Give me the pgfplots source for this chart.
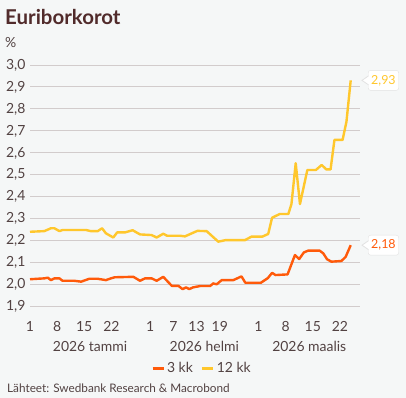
\documentclass[border=0pt]{standalone}
\usepackage{fontspec}
\setmainfont{Lato}
\usepackage{pgfplots}
\pgfplotsset{compat=1.18}
\definecolor{bg}{HTML}{F5F7F7}
\definecolor{titlec}{HTML}{512B2B}
\definecolor{txt}{HTML}{524242}
\definecolor{gridc}{HTML}{D2CCCC}
\definecolor{yel}{HTML}{FFC72C}
\definecolor{ora}{HTML}{FF5A0A}
\definecolor{boxc}{HTML}{E2E2E2}
\begin{document}
\begin{tikzpicture}
\useasboundingbox (0bp,0bp) rectangle (406bp,-398bp);
\fill[bg] (0bp,0bp) rectangle (406bp,-398bp);
\node[anchor=base west, inner sep=0, text=titlec, font=\fontsize{20.5}{24}\selectfont\bfseries] at (5bp,-24bp) {Euriborkorot};
\node[anchor=base west, inner sep=0, text=txt, font=\fontsize{14}{16}\selectfont] at (5bp,-47bp) {\%};
\node[anchor=west, inner sep=0, text=txt, font=\fontsize{11.8}{13}\selectfont] at (7bp,-388bp) {Lähteet: Swedbank Research \& Macrobond};
\begin{axis}[at={(30bp,-306.7bp)}, anchor=south west, scale only axis,
  width=330bp, height=241.7bp, xmin=0, xmax=85.2, ymin=1.9, ymax=3.0,
  clip=false, axis line style={draw=none}, major tick length=0,
  ymajorgrids, grid style={gridc, line width=1bp},
  ytick={1.9,2.0,2.1,2.2,2.3,2.4,2.5,2.6,2.7,2.8,2.9,3.0},
  xtick={0,7,14,21,31,37,43,49,59,66,73,80},
  xticklabels={1,8,15,22,1,7,13,19,1,8,15,22},
  ticklabel style={font=\fontsize{14}{16}\selectfont, text=txt},
  xticklabel style={anchor=center, yshift=-20bp},
  yticklabel style={anchor=east, xshift=-1bp},
  /pgf/number format/.cd, use comma, fixed, fixed zerofill, precision=1, assume math mode=true,
  /pgfplots/.cd,
  legend style={at={(0.521,-0.254)}, anchor=center, draw=none, fill=none,
    font=\fontsize{14}{16}\selectfont, text=txt, legend columns=2,
    /tikz/every even column/.append style={column sep=6bp}},
  legend image code/.code={\draw[#1, line width=3bp, line cap=butt] (0bp,0bp) -- (11bp,0bp);},
]
\addplot[ora, line width=2.4bp, line join=round] coordinates {
(0,2.025)(3.7,2.029)(4.6,2.032)(5.4,2.021)(6.3,2.029)(7.6,2.029)(8.4,2.018)(11.4,2.018)(13.2,2.014)(15.3,2.027)(17.5,2.027)(19.6,2.021)(20.9,2.029)(21.9,2.034)(26.7,2.036)(28.4,2.018)(29.7,2.029)(31.4,2.029)(32.7,2.018)(34.4,2.036)(36.6,1.995)(38.3,1.995)(39.4,1.98)(40.3,1.988)(41.1,1.98)(42.1,1.988)(43.9,1.994)(46.5,1.994)(47.3,2.006)(48.2,2.002)(49.5,2.021)(52.5,2.021)(54.6,2.038)(55.6,2.009)(59.6,2.009)(61.4,2.030)(62.5,2.054)(63.4,2.044)(66.5,2.047)(68.4,2.135)(69.5,2.117)(70.7,2.147)(71.8,2.155)(74.8,2.155)(75.7,2.143)(76.7,2.116)(77.8,2.105)(80.4,2.108)(81.5,2.127)(82.8,2.18)
};
\addlegendentry{3 kk}
\addplot[yel, line width=2.4bp, line join=round] coordinates {
(0,2.241)(3.7,2.244)(5.4,2.257)(6.3,2.257)(7.6,2.244)(8.4,2.249)(14.5,2.249)(15.7,2.244)(17.5,2.244)(18.6,2.257)(19.6,2.234)(21.5,2.215)(22.5,2.238)(24.5,2.238)(26.5,2.248)(28.4,2.229)(31.4,2.226)(32.7,2.215)(34.4,2.232)(35.4,2.223)(38.7,2.223)(40,2.220)(42.3,2.238)(43.2,2.245)(45.6,2.244)(48.6,2.196)(50.5,2.203)(55.5,2.203)(57.2,2.219)(60,2.219)(61.5,2.231)(62.5,2.305)(64.5,2.322)(66.7,2.322)(67.5,2.367)(68.6,2.553)(69.7,2.367)(71.6,2.522)(73.8,2.522)(75.3,2.545)(76.5,2.525)(77.6,2.525)(78.6,2.659)(80.7,2.659)(81.7,2.742)(82.8,2.93)
};
\addlegendentry{12 kk}
% month labels
\node[font=\fontsize{14}{16}\selectfont, text=txt] at (axis cs:15.5,1.9) [yshift=-39.3bp] {2026 tammi};
\node[font=\fontsize{14}{16}\selectfont, text=txt] at (axis cs:45,1.9) [yshift=-39.3bp] {2026 helmi};
\node[font=\fontsize{14}{16}\selectfont, text=txt] at (axis cs:72.1,1.9) [yshift=-39.3bp] {2026 maalis};
% callouts
\node[anchor=west, fill=white, draw=boxc, rounded corners=2.5bp, inner xsep=3bp, inner ysep=0, minimum height=20bp, text=yel, font=\fontsize{12.5}{14}\selectfont] at ([xshift=17.3bp]axis cs:82.8,2.93) {2,93};
\fill[white] ([xshift=11.3bp]axis cs:82.8,2.93) -- ([xshift=17.8bp,yshift=4.5bp]axis cs:82.8,2.93) -- ([xshift=18.4bp,yshift=4.5bp]axis cs:82.8,2.93) -- ([xshift=18.4bp,yshift=-4.5bp]axis cs:82.8,2.93) -- ([xshift=17.8bp,yshift=-4.5bp]axis cs:82.8,2.93) -- cycle;
\draw[boxc, line width=0.8bp] ([xshift=17.8bp,yshift=4.5bp]axis cs:82.8,2.93) -- ([xshift=11.3bp]axis cs:82.8,2.93) -- ([xshift=17.8bp,yshift=-4.5bp]axis cs:82.8,2.93);
\node[anchor=west, fill=white, draw=boxc, rounded corners=2.5bp, inner xsep=3bp, inner ysep=0, minimum height=20bp, text=ora, font=\fontsize{12.5}{14}\selectfont] at ([xshift=17.3bp]axis cs:82.8,2.18) {2,18};
\fill[white] ([xshift=11.3bp]axis cs:82.8,2.18) -- ([xshift=17.8bp,yshift=4.5bp]axis cs:82.8,2.18) -- ([xshift=18.4bp,yshift=4.5bp]axis cs:82.8,2.18) -- ([xshift=18.4bp,yshift=-4.5bp]axis cs:82.8,2.18) -- ([xshift=17.8bp,yshift=-4.5bp]axis cs:82.8,2.18) -- cycle;
\draw[boxc, line width=0.8bp] ([xshift=17.8bp,yshift=4.5bp]axis cs:82.8,2.18) -- ([xshift=11.3bp]axis cs:82.8,2.18) -- ([xshift=17.8bp,yshift=-4.5bp]axis cs:82.8,2.18);
\end{axis}
\end{tikzpicture}
\end{document}
